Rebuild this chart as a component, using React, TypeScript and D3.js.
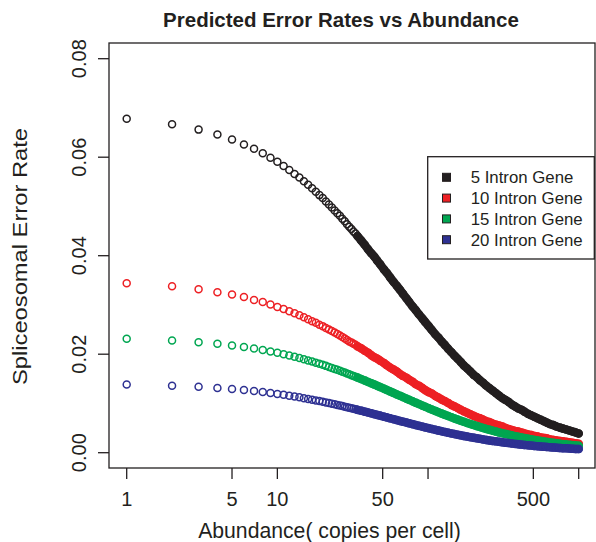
import React from "react";
import * as d3 from "d3";

// Abundance (copies per cell) at which each point is drawn
const abundance = [
  1, 2, 3, 4, 5, 6, 7, 8, 9, 10, 11, 12, 13, 14, 15, 16, 17, 18, 19, 20, 21, 22, 23, 24, 25, 26,
  27, 28, 29, 30, 31, 32, 33, 34, 36, 38, 40, 42, 44, 46, 48,
  51, 53, 56, 59, 62, 65, 68, 72, 75, 79, 83, 87, 92, 96,
  101, 106, 112, 117, 123, 129, 136, 143, 150, 157, 165, 173, 182, 191,
  201, 211, 221, 232, 244, 256, 269, 282, 296, 311, 327, 343, 360, 378, 397,
  417, 438, 460, 483, 507, 532, 559, 587, 616, 647, 679, 713, 749, 786, 826, 867, 910, 956, 1000,
];

const intron5 = [
  0.0678, 0.0667, 0.0656, 0.0646, 0.0636, 0.0626, 0.0617, 0.0608, 0.0599, 0.0591, 0.0582, 0.0574, 0.0566,
  0.0559, 0.0551, 0.0544, 0.0537, 0.053, 0.0523, 0.0517, 0.051, 0.0504, 0.0498, 0.0492, 0.0486, 0.0481,
  0.0475, 0.047, 0.0464, 0.0459, 0.0454, 0.0449, 0.0445, 0.044, 0.0431, 0.0422, 0.0413, 0.0405, 0.0398, 0.039, 0.0383,
  0.0372, 0.0366, 0.0356, 0.0347, 0.0339, 0.0331, 0.0323, 0.0313, 0.0306, 0.0297, 0.0289, 0.0281, 0.0272, 0.0265,
  0.0257, 0.0249, 0.024, 0.0234, 0.0226, 0.0219, 0.0211, 0.0204, 0.0197, 0.0191, 0.0184, 0.0177, 0.0171, 0.0165,
  0.0158, 0.0153, 0.0147, 0.0142, 0.0136, 0.0131, 0.0126, 0.0121, 0.0116, 0.0111, 0.0107, 0.0103, 0.0098, 0.0094, 0.009,
  0.0087, 0.0083, 0.0079, 0.0076, 0.0073, 0.007, 0.0067, 0.0064, 0.0061, 0.0058, 0.0056, 0.0053, 0.0051, 0.0049,
  0.0047, 0.0045, 0.0043, 0.0041, 0.0039,
];

const intron10 = [
  0.0344, 0.0338, 0.0332, 0.0326, 0.0321, 0.0316, 0.031, 0.0306, 0.0301, 0.0296, 0.0292, 0.0287, 0.0283,
  0.0279, 0.0275, 0.0271, 0.0267, 0.0264, 0.026, 0.0257, 0.0253, 0.025, 0.0247, 0.0244, 0.0241, 0.0238,
  0.0235, 0.0232, 0.0229, 0.0226, 0.0224, 0.0221, 0.0219, 0.0216, 0.0212, 0.0207, 0.0203, 0.0198, 0.0194, 0.0191, 0.0187,
  0.0182, 0.0178, 0.0173, 0.0169, 0.0165, 0.016, 0.0156, 0.0152, 0.0148, 0.0144, 0.0139, 0.0136, 0.0131, 0.0127,
  0.0123, 0.012, 0.0115, 0.0112, 0.0108, 0.0105, 0.0101, 0.0097, 0.0094, 0.0091, 0.0087, 0.0084, 0.0081, 0.0078,
  0.0075, 0.0072, 0.007, 0.0067, 0.0064, 0.0062, 0.0059, 0.0057, 0.0055, 0.0053, 0.005, 0.0048, 0.0046, 0.0044, 0.0043,
  0.0041, 0.0039, 0.0037, 0.0036, 0.0034, 0.0033, 0.0031, 0.003, 0.0029, 0.0027, 0.0026, 0.0025, 0.0024, 0.0023,
  0.0022, 0.0021, 0.002, 0.0019, 0.0018,
];

const intron15 = [
  0.02313, 0.02278, 0.02243, 0.0221, 0.02177, 0.02146, 0.02115, 0.02085, 0.02056, 0.02028, 0.02001, 0.01974, 0.01948,
  0.01923, 0.01898, 0.01874, 0.01851, 0.01828, 0.01805, 0.01784, 0.01763, 0.01742, 0.01722, 0.01702, 0.01682, 0.01663,
  0.01645, 0.01627, 0.01609, 0.01592, 0.01575, 0.01558, 0.01542, 0.01526, 0.01495, 0.01466, 0.01437, 0.0141, 0.01384, 0.01358, 0.01334,
  0.01299, 0.01276, 0.01244, 0.01214, 0.01184, 0.01157, 0.0113, 0.01097, 0.01073, 0.01043, 0.01014, 0.00987, 0.00955, 0.00931,
  0.00903, 0.00876, 0.00846, 0.00823, 0.00796, 0.00771, 0.00744, 0.00719, 0.00695, 0.00673, 0.00649, 0.00627, 0.00604, 0.00583,
  0.00561, 0.0054, 0.00521, 0.00502, 0.00482, 0.00464, 0.00446, 0.00429, 0.00412, 0.00396, 0.0038, 0.00365, 0.0035, 0.00336, 0.00322,
  0.00308, 0.00296, 0.00283, 0.00271, 0.0026, 0.00249, 0.00238, 0.00228, 0.00218, 0.00209, 0.002, 0.00191, 0.00182, 0.00174,
  0.00167, 0.00159, 0.00152, 0.00145, 0.00139,
];

const intron20 = [
  0.01385, 0.01361, 0.01337, 0.01314, 0.01293, 0.01271, 0.01251, 0.01231, 0.01212, 0.01193, 0.01175, 0.01157, 0.0114,
  0.01124, 0.01108, 0.01092, 0.01077, 0.01062, 0.01048, 0.01034, 0.0102, 0.01007, 0.00994, 0.00982, 0.00969, 0.00957,
  0.00946, 0.00934, 0.00923, 0.00912, 0.00902, 0.00891, 0.00881, 0.00871, 0.00852, 0.00834, 0.00816, 0.00799, 0.00783, 0.00768, 0.00753,
  0.00732, 0.00718, 0.00699, 0.0068, 0.00663, 0.00646, 0.0063, 0.00611, 0.00597, 0.00579, 0.00562, 0.00546, 0.00528, 0.00514,
  0.00497, 0.00482, 0.00464, 0.00451, 0.00436, 0.00421, 0.00406, 0.00392, 0.00378, 0.00366, 0.00352, 0.0034, 0.00327, 0.00315,
  0.00303, 0.00292, 0.00281, 0.0027, 0.00259, 0.00249, 0.00239, 0.0023, 0.00221, 0.00212, 0.00203, 0.00195, 0.00187, 0.00179, 0.00172,
  0.00164, 0.00157, 0.00151, 0.00144, 0.00138, 0.00132, 0.00126, 0.00121, 0.00116, 0.0011, 0.00106, 0.00101, 0.00096, 0.00092,
  0.00088, 0.00084, 0.0008, 0.00077, 0.00074,
];

const seriesNames = ["5 Intron Gene", "10 Intron Gene", "15 Intron Gene", "20 Intron Gene"];
const seriesValues = [intron5, intron10, intron15, intron20];
const seriesColors = ["#231f20", "#ed2024", "#00a651", "#2e3192"];

const yTicks = [0, 0.02, 0.04, 0.06, 0.08];
const yTickLabels = ["0.00", "0.02", "0.04", "0.06", "0.08"];
const xTicks = [1, 5, 10, 50, 100, 500, 1000];
const xTickLabels = ["1", "5", "10", "50", "", "500", ""];

// abundance from which the overlapping open circles merge into a solid band
const denseFrom = 34;

const FONT = "'Liberation Sans', Arial, Helvetica, sans-serif";
const INK = "#231f20";

export default function App() {
  const W = 596;
  const H = 542;
  const box = { left: 109, right: 595, top: 43, bottom: 468 };
  const x = d3.scaleLog().domain([1, 1000]).range([126.7, 578.7]);
  const y = d3.scaleLinear().domain([0, 0.08]).range([452.7, 58.7]);

  const R = 3.5;
  const SW = 1.5;

  const band = d3
    .line<[number, number]>()
    .x((d) => x(d[0]))
    .y((d) => y(d[1]))
    .curve(d3.curveMonotoneX);

  const legend = { x: 427.7, y: 156.7, w: 166.6, h: 102.3 };
  const legendRow = d3.scaleLinear().domain([0, 3]).range([177.3, 239.7]);

  const n = Math.min(abundance.length, ...seriesValues.map((s) => s.length));

  return (
    <svg
      width={W}
      height={H}
      viewBox={`0 0 ${W} ${H}`}
      style={{ position: "absolute", left: 0, top: 0, background: "#fff" }}
      fontFamily={FONT}
    >
      <rect x={0} y={0} width={W} height={H} fill="#fff" />
      <text x={341} y={27} textAnchor="middle" fontSize={20.5} fontWeight="bold" fill={INK}>
        Predicted Error Rates vs Abundance
      </text>

      {/* points */}
      {seriesValues.map((vals, si) => {
        const pts = abundance.slice(0, n).map((a, i) => [a, vals[i]] as [number, number]);
        const dense = pts.filter((d) => d[0] >= denseFrom);
        return (
          <g key={si}>
            <path
              d={band(dense) || ""}
              fill="none"
              stroke={seriesColors[si]}
              strokeWidth={2 * R + SW}
              strokeLinecap="round"
              strokeLinejoin="round"
            />
            <g fill="none" stroke={seriesColors[si]} strokeWidth={SW}>
              {pts.map((d, i) => (
                <circle key={i} cx={x(d[0])} cy={y(d[1])} r={R} />
              ))}
            </g>
          </g>
        );
      })}

      {/* box */}
      <rect
        x={box.left}
        y={box.top}
        width={box.right - box.left}
        height={box.bottom - box.top}
        fill="none"
        stroke={INK}
        strokeWidth={1.3}
      />

      {/* y axis */}
      {yTicks.map((t, i) => (
        <g key={i}>
          <line x1={98} x2={box.left} y1={y(t)} y2={y(t)} stroke={INK} strokeWidth={1.3} />
          <text
            transform={`translate(86,${y(t)}) rotate(-90)`}
            textAnchor="middle"
            fontSize={20}
            fill={INK}
          >
            {yTickLabels[i]}
          </text>
        </g>
      ))}
      <text
        transform={`translate(26.5,256.5) rotate(-90)`}
        textAnchor="middle"
        fontSize={21}
        fill={INK}
        textLength={257}
        lengthAdjust="spacingAndGlyphs"
      >
        Spliceosomal Error Rate
      </text>

      {/* x axis */}
      {xTicks.map((t, i) => (
        <g key={i}>
          <line x1={x(t)} x2={x(t)} y1={box.bottom} y2={479} stroke={INK} strokeWidth={1.3} />
          {xTickLabels[i] && (
            <text x={x(t)} y={505.7} textAnchor="middle" fontSize={20} fill={INK}>
              {xTickLabels[i]}
            </text>
          )}
        </g>
      ))}
      <text x={329.5} y={538} textAnchor="middle" fontSize={21.2} fill={INK}>
        Abundance( copies per cell)
      </text>

      {/* legend */}
      <rect
        x={legend.x}
        y={legend.y}
        width={legend.w}
        height={legend.h}
        fill="#fff"
        stroke={INK}
        strokeWidth={1.3}
      />
      {seriesNames.map((name, i) => (
        <g key={i}>
          <rect
            x={442.5}
            y={legendRow(i) - 4}
            width={8}
            height={8}
            fill={seriesColors[i]}
            stroke={INK}
            strokeWidth={1}
          />
          <text x={470.7} y={legendRow(i) + 5.8} fontSize={16.8} fill={INK}>
            {name}
          </text>
        </g>
      ))}
    </svg>
  );
}
